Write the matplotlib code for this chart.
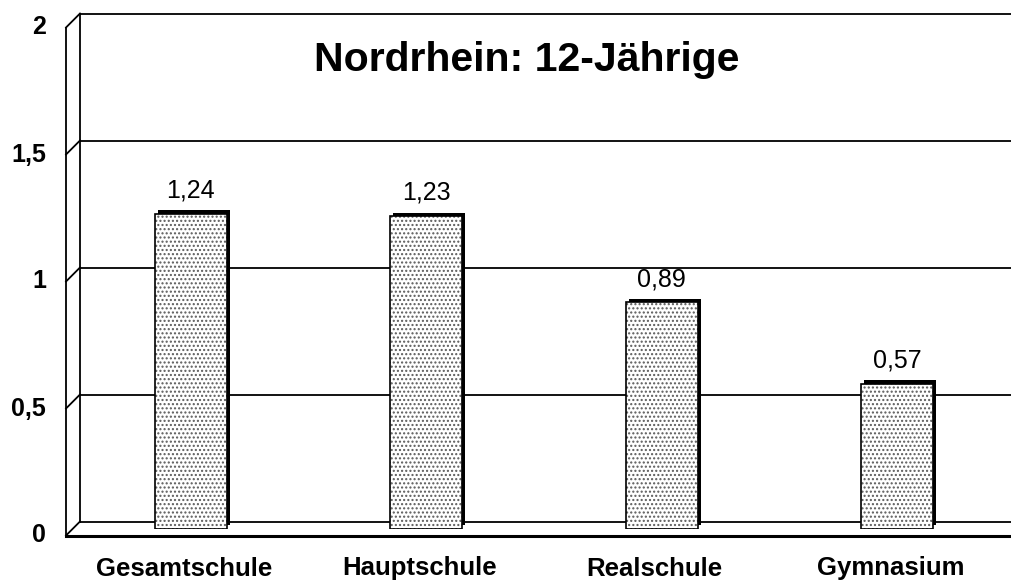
import matplotlib
matplotlib.use("Agg")
import matplotlib.pyplot as plt
from matplotlib.transforms import offset_copy
from matplotlib.lines import Line2D

categories = ["Gesamtschule", "Hauptschule", "Realschule", "Gymnasium"]
values = [1.24, 1.23, 0.89, 0.57]
value_labels = ["1,24", "1,23", "0,89", "0,57"]
yticks = [0, 0.5, 1, 1.5, 2]
ytick_labels = ["0", "0,5", "1", "1,5", "2"]
title = "Nordrhein: 12-Jährige"

plt.rcParams['font.family'] = ['Liberation Sans', 'DejaVu Sans']

W, H, DPI = 1011, 583, 100
fig = plt.figure(figsize=(W / DPI, H / DPI), dpi=DPI)
# axes = mid-depth plane
ax = fig.add_axes([73 / W, 54.5 / H, 942 / W, 508 / H])
ax.set_xlim(-0.5, 3.5)
ax.set_ylim(0, 2)
ax.axis('off')

D = 7  # half depth in pixels
back = offset_copy(ax.transData, fig=fig, x=D, y=D, units='dots')
front = offset_copy(ax.transData, fig=fig, x=-D, y=-D, units='dots')

x = list(range(len(categories)))
xl, xr = -0.5, 4.0

# back wall gridlines
for t in yticks:
    ax.plot([xl, xr], [t, t], color='black', lw=1.3, transform=back, zorder=1, clip_on=False)
ax.plot([xl, xl], [0, 2], color='black', lw=1.3, transform=back, zorder=1, clip_on=False)

# front axis
ax.plot([xl, xl], [0, 2], color='black', lw=1.3, transform=front, zorder=5, clip_on=False)
ax.plot([xl, xr], [0, 0], color='black', lw=2.2, transform=front, zorder=5, clip_on=False)

# diagonals on left side wall
fig.canvas.draw()
for t in yticks:
    p = ax.transData.transform((xl, t))
    fig.add_artist(Line2D([p[0] - D, p[0] + D], [p[1] - D, p[1] + D],
                          transform=None, color='black', lw=1.3, zorder=5))

bw = 72 / 235.5
shadow = offset_copy(ax.transData, fig=fig, x=3, y=3.5, units='dots')
sb = ax.bar(x, values, width=bw, color='black', zorder=2)
for p in sb:
    p.set_transform(shadow)
ax.bar(x, values, width=bw, color='white', zorder=3, lw=0)
ax.bar(x, values, width=bw, color='none', edgecolor='#5a5a5a', hatch='....', lw=0, zorder=3.5)
ax.bar(x, values, width=bw, fill=False, edgecolor='black', lw=1.2, zorder=4)

for xi, v, lab in zip(x, values, value_labels):
    ax.annotate(lab, (xi, v), xytext=(0, 8), textcoords='offset points',
                ha='center', va='bottom', fontsize=18, zorder=6)

for xi, lab in zip(x, categories):
    p = front.transform((xi, 0))
    fig.text(p[0] / W, (p[1] - 33) / H, lab, ha='center', va='center',
             fontsize=18.5, fontweight='bold')

for t, lab in zip(yticks, ytick_labels):
    p = front.transform((xl, t))
    fig.text((p[0] - 20) / W, p[1] / H, lab, ha='right', va='center',
             fontsize=18, fontweight='bold')

fig.text(527 / W, (H - 60) / H, title, ha='center', va='center',
         fontsize=29.5, fontweight='bold')

fig.savefig('out.png', dpi=DPI)
